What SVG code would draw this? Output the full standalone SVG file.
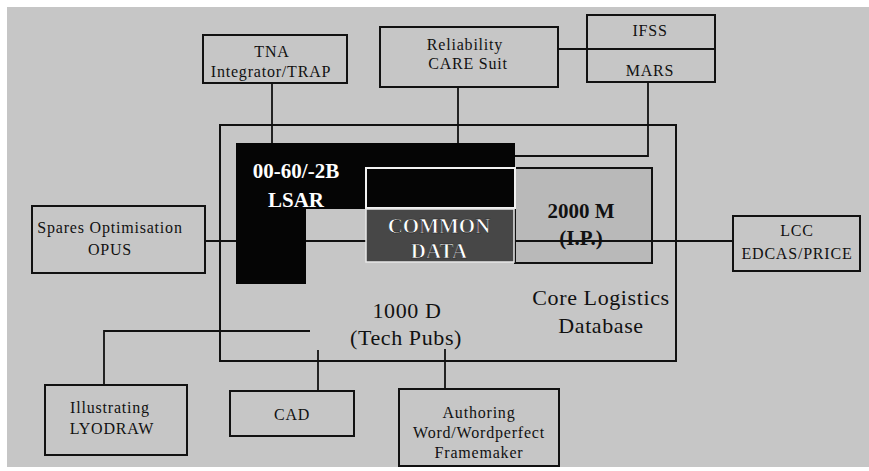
<svg xmlns="http://www.w3.org/2000/svg" width="869" height="471" viewBox="0 0 869 471">
<style>
.box{fill:none;stroke:#111;stroke-width:2}
.ln{fill:none;stroke:#111;stroke-width:1.8}
.t{font-family:"Liberation Serif",serif;font-size:16px;fill:#111;text-anchor:middle;letter-spacing:0.8px}
.big{font-family:"Liberation Serif",serif;font-size:22px;fill:#111;text-anchor:middle;letter-spacing:0.6px}
.bw{font-family:"Liberation Serif",serif;font-size:21px;font-weight:bold;fill:#fff;text-anchor:middle}
.bb{font-family:"Liberation Serif",serif;font-size:21px;font-weight:bold;fill:#111;text-anchor:middle}
</style>
<rect x="0" y="0" width="869" height="471" fill="#ffffff"/>
<rect x="7" y="7" width="862" height="460" fill="#c6c6c6"/>

<g id="core">
<rect class="box" x="220" y="125" width="456" height="236"/>
<text class="big" x="601" y="305">Core Logistics</text>
<text class="big" x="601" y="333">Database</text>
<text class="big" x="407" y="318">1000 D</text>
<text class="big" x="406" y="345">(Tech Pubs)</text>
</g>

<g id="ip">
<rect x="515" y="168" width="137" height="95" fill="#b9b9b9" stroke="#111" stroke-width="2"/>
<text class="bb" x="581" y="218">2000 M</text>
<text class="bb" x="581" y="245">(I.P.)</text>
</g>

<g id="connectors">
<path class="ln" d="M272 83V143"/>
<path class="ln" d="M458 87V143"/>
<path class="ln" d="M558 49H715"/>
<path class="ln" d="M648 82V156H515"/>
<path class="ln" d="M205 241H733"/>
<path class="ln" d="M104 385V331H310"/>
<path class="ln" d="M318 391V350"/>
<path class="ln" d="M445 389V349"/>
</g>

<g id="lsar">
<path d="M236 143H515V209H306V284H236Z" fill="#050505"/>
<rect x="366" y="168" width="149" height="40" fill="#050505" stroke="#f2f2f2" stroke-width="2"/>
<text class="bw" x="296" y="178">00-60/-2B</text>
<text class="bw" x="296" y="207">LSAR</text>
</g>

<g id="common">
<rect x="366" y="209" width="148" height="53" fill="#474747" stroke="#e8e8e8" stroke-width="1.5"/>
<text class="bw" x="439" y="233" stroke="#222" stroke-width="0.6">COMMON</text>
<text class="bw" x="439" y="258" stroke="#222" stroke-width="0.6">DATA</text>
</g>

<g id="tna">
<rect class="box" x="203" y="35" width="144" height="48"/>
<text class="t" x="272" y="57">TNA</text>
<text class="t" x="271" y="77">Integrator/TRAP</text>
</g>

<g id="reliability">
<rect class="box" x="380" y="27" width="178" height="60"/>
<text class="t" x="465" y="50">Reliability</text>
<text class="t" x="468" y="69">CARE Suit</text>
</g>

<g id="ifss">
<rect class="box" x="587" y="15" width="128" height="67"/>
<text class="t" x="650" y="36">IFSS</text>
<text class="t" x="650" y="76">MARS</text>
</g>

<g id="spares">
<rect class="box" x="32" y="206" width="173" height="67"/>
<text class="t" x="110" y="233">Spares Optimisation</text>
<text class="t" x="110" y="255">OPUS</text>
</g>

<g id="lcc">
<rect class="box" x="733" y="216" width="127" height="55"/>
<text class="t" x="797" y="236">LCC</text>
<text class="t" x="797" y="259">EDCAS/PRICE</text>
</g>

<g id="illustrating">
<rect class="box" x="45" y="385" width="142" height="70"/>
<text class="t" x="110" y="413">Illustrating</text>
<text class="t" x="112" y="434">LYODRAW</text>
</g>

<g id="cad">
<rect class="box" x="230" y="391" width="124" height="45"/>
<text class="t" x="292" y="420">CAD</text>
</g>

<g id="authoring">
<rect class="box" x="399" y="389" width="160" height="77"/>
<text class="t" x="479" y="418">Authoring</text>
<text class="t" x="479" y="438">Word/Wordperfect</text>
<text class="t" x="479" y="458">Framemaker</text>
</g>
</svg>
